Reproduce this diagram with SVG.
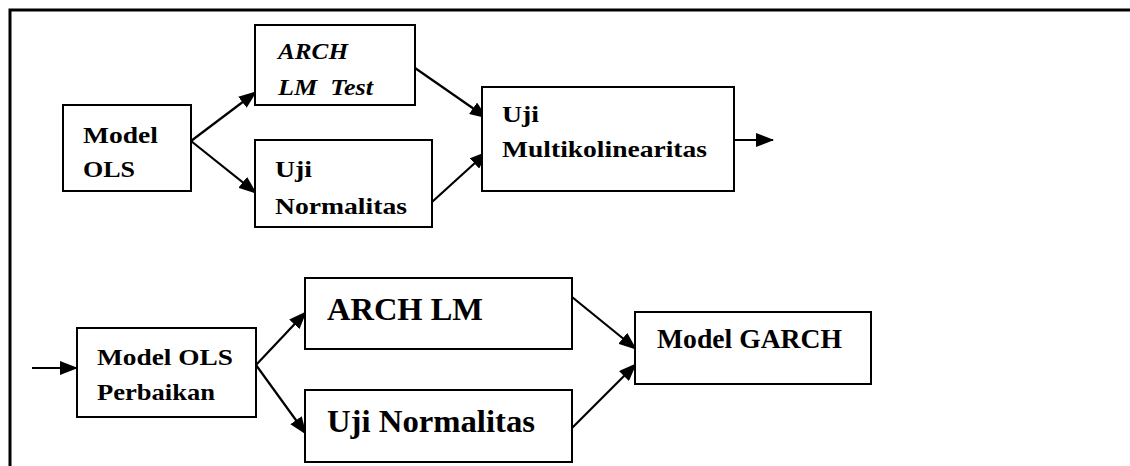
<svg xmlns="http://www.w3.org/2000/svg" width="1130" height="466" viewBox="0 0 1130 466">
<style>
  .box { fill: #fff; stroke: #000; stroke-width: 2; }
  text { font-family: 'Liberation Serif', 'Times New Roman', serif; font-weight: bold; fill: #000; }
  .s24 { font-size: 24px; }
  .s32 { font-size: 32px; }
  .s27 { font-size: 27px; }
  .it { font-style: italic; }
  .edge { stroke: #000; stroke-width: 2.2; fill: none; marker-end: url(#arrow); }
  .frame { stroke: #000; stroke-width: 3; fill: none; }
</style>
<defs>
  <marker id="arrow" markerUnits="userSpaceOnUse" markerWidth="18" markerHeight="14" refX="17" refY="7" orient="auto">
    <path d="M0,0 L18,7 L0,14 z" fill="#000"/>
  </marker>
</defs>
<rect x="0" y="0" width="1130" height="466" fill="#fff"/>
<path class="frame" d="M10,466 L10,10 L1130,10"/>

<g id="connectors">
  <line class="edge" x1="191" y1="141" x2="256" y2="92"/>
  <line class="edge" x1="191" y1="141" x2="256" y2="193"/>
  <line class="edge" x1="415" y1="68" x2="487" y2="118"/>
  <line class="edge" x1="432" y1="202" x2="487" y2="152"/>
  <line class="edge" x1="734" y1="140" x2="773" y2="140"/>
  <line class="edge" x1="32" y1="368" x2="77" y2="368"/>
  <line class="edge" x1="256" y1="365" x2="306" y2="312"/>
  <line class="edge" x1="256" y1="365" x2="306" y2="434"/>
  <line class="edge" x1="572" y1="297" x2="636" y2="349"/>
  <line class="edge" x1="572" y1="428" x2="636" y2="364"/>
</g>

<g id="model-ols">
  <rect class="box" x="63" y="105" width="128" height="86"/>
  <text class="s24" x="83" y="143" textLength="75" lengthAdjust="spacingAndGlyphs">Model</text>
  <text class="s24" x="83" y="177" textLength="52" lengthAdjust="spacingAndGlyphs">OLS</text>
</g>

<g id="arch-lm-test">
  <rect class="box" x="255" y="25" width="160" height="80"/>
  <text class="s24 it" x="278" y="59" textLength="70" lengthAdjust="spacingAndGlyphs">ARCH</text>
  <text class="s24 it" x="278" y="95" textLength="95" lengthAdjust="spacingAndGlyphs" xml:space="preserve">LM  Test</text>
</g>

<g id="uji-normalitas-1">
  <rect class="box" x="255" y="140" width="177" height="87"/>
  <text class="s24" x="275" y="177" textLength="37" lengthAdjust="spacingAndGlyphs">Uji</text>
  <text class="s24" x="275" y="214" textLength="132" lengthAdjust="spacingAndGlyphs">Normalitas</text>
</g>

<g id="uji-multikolinearitas">
  <rect class="box" x="482" y="87" width="252" height="104"/>
  <text class="s24" x="502" y="122" textLength="37" lengthAdjust="spacingAndGlyphs">Uji</text>
  <text class="s24" x="502" y="157" textLength="205" lengthAdjust="spacingAndGlyphs">Multikolinearitas</text>
</g>

<g id="model-ols-perbaikan">
  <rect class="box" x="77" y="328" width="179" height="89"/>
  <text class="s24" x="97" y="365" textLength="136" lengthAdjust="spacingAndGlyphs">Model OLS</text>
  <text class="s24" x="97" y="400" textLength="118" lengthAdjust="spacingAndGlyphs">Perbaikan</text>
</g>

<g id="arch-lm">
  <rect class="box" x="305" y="278" width="267" height="71"/>
  <text class="s32" x="327" y="320" textLength="156" lengthAdjust="spacingAndGlyphs">ARCH LM</text>
</g>

<g id="uji-normalitas-2">
  <rect class="box" x="305" y="390" width="267" height="72"/>
  <text class="s32" x="327" y="432" textLength="208" lengthAdjust="spacingAndGlyphs">Uji Normalitas</text>
</g>

<g id="model-garch">
  <rect class="box" x="635" y="312" width="236" height="72"/>
  <text class="s27" x="657" y="348" textLength="185" lengthAdjust="spacingAndGlyphs">Model GARCH</text>
</g>
</svg>
